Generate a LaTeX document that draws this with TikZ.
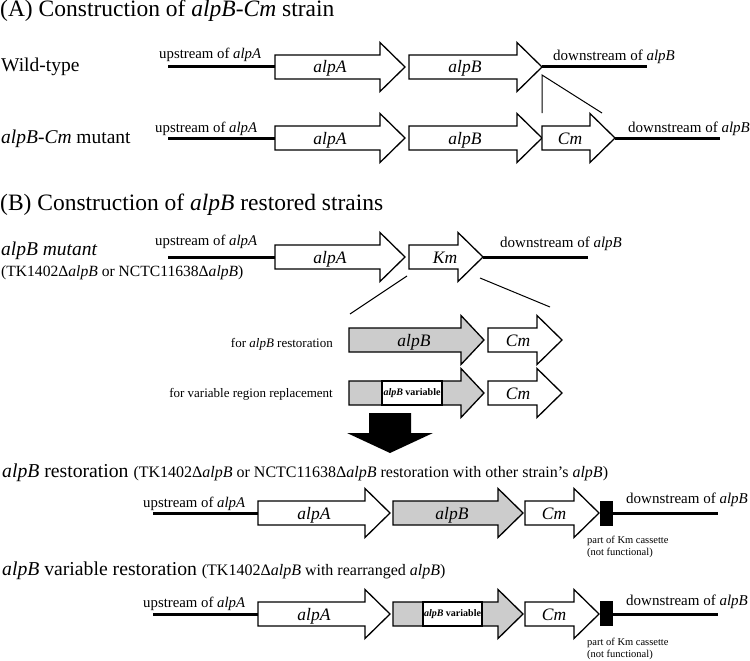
\documentclass[tikz,border=0pt]{standalone}
\usepackage{fontspec}
\setmainfont{Liberation Serif}
\newcommand{\fsz}[1]{\fontsize{#1}{#1}\selectfont}
% gene arrow: style, x0, x1 (head start), tip, yc
\newcommand{\gArrow}[5]{%
  \draw[#1] (#2,{#5-12}) -- (#3,{#5-12}) -- (#3,{#5-24.5}) -- (#4,#5) -- (#3,{#5+24.5}) -- (#3,{#5+12}) -- (#2,{#5+12}) -- cycle;}
\begin{document}
\begin{tikzpicture}[x=1pt,y=-1pt,
  txt/.style={inner sep=0pt, anchor=base west},
  txtr/.style={inner sep=0pt, anchor=base east},
  lab/.style={inner sep=0pt, anchor=base, font=\fsz{17.5}\itshape},
  dna/.style={line width=3pt},
  gene/.style={draw, line width=1.3pt, fill=white, line join=miter},
  ggene/.style={draw, line width=1.3pt, fill=black!20, line join=miter},
  thinl/.style={line width=1pt}]
\useasboundingbox (0,0) rectangle (750,661);

% ===== (A) =====
\node[txt, font=\fsz{23.5}] (tA) at (0,17) {(A) Construction of \textit{alpB-Cm} strain};

% Wild-type row
\node[txt, font=\fsz{19.5}] (wt) at (1,72) {Wild-type};
\draw[dna] (168,67) -- (275,67);
\draw[dna] (542,67) -- (647,67);
\gArrow{gene}{275}{380}{405}{67}
\gArrow{gene}{409}{517}{542}{67}
\node[lab] (wtA) at (330,73) {alpA};
\node[lab] (wtB) at (465,73) {alpB};
\node[txt, font=\fsz{14.8}] (wtup) at (159,59) {upstream of \textit{alpA}};
\node[txt, font=\fsz{15}] (wtdn) at (553,60) {downstream of \textit{alpB}};

% insertion lines
\coordinate (ins1) at (542,75);
\coordinate (ins2) at (542,113);
\coordinate (ins3) at (602,113);
\draw[thinl] (ins2) -- (ins1) -- (ins3);

% alpB-Cm mutant row
\node[txt, font=\fsz{19.5}] (mut) at (1,143) {\textit{alpB-Cm} mutant};
\draw[dna] (168,138) -- (275,138);
\draw[dna] (615,138) -- (720,138);
\gArrow{gene}{275}{380}{405}{138}
\gArrow{gene}{409}{517}{542}{138}
\gArrow{gene}{542}{590}{615}{138}
\node[lab] (mA) at (330,144) {alpA};
\node[lab] (mB) at (465,144) {alpB};
\node[lab] (mC) at (570,144) {Cm};
\node[txt, font=\fsz{14.8}] (mup) at (155,132) {upstream of \textit{alpA}};
\node[txt, font=\fsz{15}] (mdn) at (628,132) {downstream of \textit{alpB}};

% ===== (B) =====
\node[txt, font=\fsz{23.5}] (tB) at (0,210) {(B) Construction of \textit{alpB} restored strains};

\node[txt, font=\fsz{19.5}\itshape] (bm) at (1,255) {alpB mutant};
\node[txt, font=\fsz{15.6}] (bm2) at (1,276) {(TK1402Δ\textit{alpB} or NCTC11638Δ\textit{alpB})};
\draw[dna] (168,257) -- (275,257);
\draw[dna] (483,257) -- (588,257);
\gArrow{gene}{275}{380}{405}{257}
\gArrow{gene}{409}{458}{483}{257}
\node[lab] (bA) at (330,263) {alpA};
\node[lab] (bK) at (445,263) {Km};
\node[txt, font=\fsz{14.8}] (bup) at (155,245) {upstream of \textit{alpA}};
\node[txt, font=\fsz{15}] (bdn) at (500,247) {downstream of \textit{alpB}};

\coordinate (ex1a) at (407,276);
\coordinate (ex1b) at (350,314);
\coordinate (ex2a) at (480,278);
\coordinate (ex2b) at (550,307);
\draw[thinl] (ex1a) -- (ex1b);
\draw[thinl] (ex2a) -- (ex2b);

% constructs
\node[txtr, font=\fsz{13}] (f1) at (333,347) {for \textit{alpB} restoration};
\gArrow{ggene}{349}{461}{484}{340}
\gArrow{gene}{488}{537}{562}{340}
\node[lab] (c1B) at (414,346) {alpB};
\node[lab] (c1C) at (518,346) {Cm};

\node[txtr, font=\fsz{13}] (f2) at (333,397) {for variable region replacement};
\gArrow{ggene}{349}{461}{484}{393}
\draw[line width=1.3pt, fill=white] (382,381) rectangle (442,405);
\node[inner sep=0pt, font=\fsz{10}\bfseries] (c2v) at (412,393) {\textit{alpB} variable};
\gArrow{gene}{488}{537}{562}{393}
\node[lab] (c2C) at (518,399) {Cm};

% big black arrow
\fill (369,413) -- (411,413) -- (411,433) -- (433,433) -- (390,453) -- (347,433) -- (369,433) -- cycle;

% alpB restoration
\node[txt] (r1t) at (2,477) {\fsz{19.7}\textit{alpB} restoration \fsz{16}(TK1402Δ\textit{alpB} or NCTC11638Δ\textit{alpB} restoration with other strain’s \textit{alpB})};
\draw[dna] (153,513) -- (258,513);
\draw[dna] (613,513) -- (718,513);
\gArrow{gene}{258}{365}{390}{513}
\gArrow{ggene}{393}{498}{523}{513}
\gArrow{gene}{525}{574}{599}{513}
\fill (600,501) rectangle (613,526);
\node[lab] (r1A) at (314,519) {alpA};
\node[lab] (r1B) at (452,519) {alpB};
\node[lab] (r1C) at (554,519) {Cm};
\node[txt, font=\fsz{14.8}] (r1up) at (143,507) {upstream of \textit{alpA}};
\node[txt, font=\fsz{15}] (r1dn) at (626,503) {downstream of \textit{alpB}};
\node[txt, font=\fsz{10.5}] (r1k) at (587,543) {part of Km cassette};
\node[txt, font=\fsz{10.5}] (r1k2) at (587,555) {(not functional)};

% alpB variable restoration
\node[txt] (r2t) at (2,575) {\fsz{19.7}\textit{alpB} variable restoration \fsz{16}(TK1402Δ\textit{alpB} with rearranged \textit{alpB})};
\draw[dna] (153,614) -- (258,614);
\draw[dna] (613,614) -- (718,614);
\gArrow{gene}{258}{365}{390}{614}
\gArrow{ggene}{393}{498}{523}{614}
\draw[line width=1.3pt, fill=white] (423,602) rectangle (482,626);
\node[inner sep=0pt, font=\fsz{10}\bfseries] (r2v) at (452.5,614) {\textit{alpB} variable};
\gArrow{gene}{525}{574}{599}{614}
\fill (600,601) rectangle (613,626);
\node[lab] (r2A) at (314,620) {alpA};
\node[lab] (r2C) at (554,620) {Cm};
\node[txt, font=\fsz{14.8}] (r2up) at (143,607) {upstream of \textit{alpA}};
\node[txt, font=\fsz{15}] (r2dn) at (626,605) {downstream of \textit{alpB}};
\node[txt, font=\fsz{10.5}] (r2k) at (587,645) {part of Km cassette};
\node[txt, font=\fsz{10.5}] (r2k2) at (587,657) {(not functional)};
\end{tikzpicture}
\end{document}
